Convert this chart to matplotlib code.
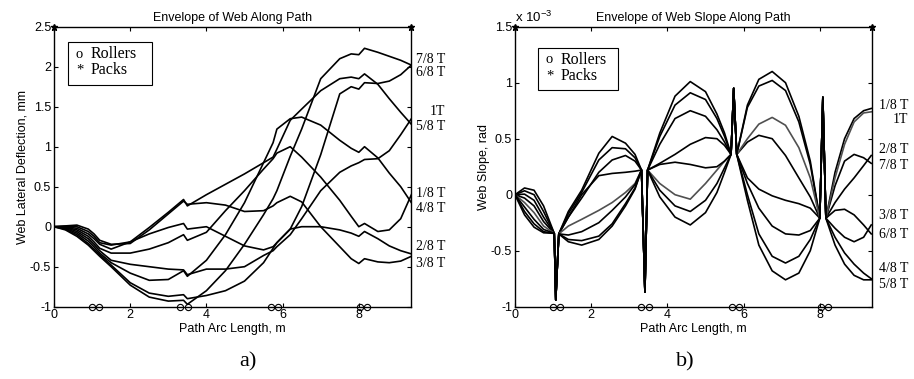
import matplotlib
matplotlib.use("Agg")
import matplotlib.pyplot as plt
from matplotlib.patches import Rectangle

plt.rcParams["font.family"] = ["Liberation Sans", "DejaVu Sans"]
plt.rcParams["mathtext.default"] = "regular"

# ---------------- a) web lateral deflection, mm ----------------
x_defl = [0, 0.3, 0.6, 0.9, 1.05, 1.2, 1.5, 2.0, 2.5, 3.0, 3.4, 3.5, 4.0, 4.5, 5.0,
          5.5, 5.75, 5.85, 6.2, 6.5, 7.0, 7.5, 7.8, 8.0, 8.15, 8.5, 8.8, 9.1, 9.38]
defl_1_8 = [0, -0.005, -0.04, -0.12, -0.19, -0.27, -0.33, -0.33, -0.28, -0.2, -0.1, -0.17, -0.07, 0.2, 0.45,
            0.72, 0.85, 0.92, 1.0, 0.87, 0.62, 0.33, 0.13, 0.0, 0.04, -0.06, -0.04, 0.1, 0.4]
defl_2_8 = [0, 0.0, -0.02, -0.09, -0.15, -0.22, -0.28, -0.19, -0.09, -0.01, 0.04, -0.03, 0.0, -0.12, -0.24,
            -0.29, -0.25, -0.2, -0.03, 0.0, 0.0, -0.04, -0.08, -0.12, -0.06, -0.15, -0.24, -0.3, -0.34]
defl_3_8 = [0, 0.01, 0.02, -0.03, -0.09, -0.17, -0.22, -0.21, -0.04, 0.16, 0.32, 0.28, 0.3, 0.27, 0.19,
            0.2, 0.26, 0.3, 0.38, 0.31, 0.0, -0.25, -0.4, -0.46, -0.4, -0.44, -0.45, -0.43, -0.37]
defl_4_8 = [0, -0.02, -0.08, -0.18, -0.25, -0.33, -0.45, -0.58, -0.67, -0.66, -0.55, -0.62, -0.42, -0.1, 0.3,
            0.8, 1.05, 1.22, 1.35, 1.37, 1.27, 1.08, 0.98, 0.93, 1.0, 0.86, 0.67, 0.5, 0.3]
defl_5_8 = [0, 0.005, 0.0, -0.06, -0.12, -0.2, -0.23, -0.19, -0.01, 0.18, 0.34, 0.26, 0.4, 0.53, 0.66,
            0.8, 0.87, 0.97, 1.33, 1.47, 1.7, 1.85, 1.87, 1.85, 1.91, 1.78, 1.6, 1.43, 1.28]
defl_6_8 = [0, -0.03, -0.1, -0.21, -0.28, -0.35, -0.48, -0.7, -0.83, -0.87, -0.85, -0.9, -0.86, -0.8, -0.68,
            -0.45, -0.27, -0.2, -0.03, 0.25, 0.9, 1.66, 1.75, 1.72, 1.8, 1.79, 1.82, 1.9, 2.02]
defl_7_8 = [0, -0.04, -0.12, -0.23, -0.3, -0.37, -0.5, -0.73, -0.88, -0.93, -0.92, -0.97, -0.8, -0.55, -0.22,
            0.15, 0.35, 0.45, 0.88, 1.22, 1.85, 2.1, 2.16, 2.15, 2.23, 2.18, 2.13, 2.08, 2.02]
defl_1 = [0, -0.01, -0.06, -0.15, -0.22, -0.3, -0.42, -0.47, -0.5, -0.53, -0.54, -0.6, -0.53, -0.53, -0.5,
          -0.36, -0.3, -0.25, -0.1, 0.1, 0.45, 0.68, 0.76, 0.8, 0.84, 0.85, 0.95, 1.15, 1.35]
defl_curves = [defl_1_8, defl_2_8, defl_3_8, defl_4_8, defl_5_8, defl_6_8, defl_7_8, defl_1]
defl_labels = ["7/8 T", "6/8 T", "1T", "5/8 T", "1/8 T", "4/8 T", "2/8 T", "3/8 T"]
defl_label_y = [2.09, 1.93, 1.44, 1.25, 0.42, 0.23, -0.25, -0.46]
defl_yticks = [-1, -0.5, 0, 0.5, 1, 1.5, 2, 2.5]
defl_yticklabels = ["-1", "-0.5", "0", "0.5", "1", "1.5", "2", "2.5"]

# ---------------- b) web slope, x 1e-3 rad ----------------
x_slope = [0, 0.25, 0.5, 0.75, 1.03, 1.07, 1.15, 1.4, 1.75, 2.2, 2.55, 2.9, 3.15, 3.32, 3.41, 3.48,
           3.8, 4.2, 4.6, 5.0, 5.3, 5.5, 5.67, 5.74, 5.82, 6.1, 6.4, 6.75, 7.1, 7.45, 7.75,
           8.0, 8.08, 8.16, 8.4, 8.65, 8.9, 9.15, 9.35]
slope_1_8 = [0, 0.06, 0.04, -0.1, -0.345, -0.94, -0.35, -0.15, 0.04, 0.37, 0.52, 0.46, 0.36, 0.22, -0.87, 0.22,
             0.55, 0.88, 1.01, 0.92, 0.72, 0.55, 0.36, 0.95, 0.36, 0.47, 0.53, 0.5, 0.35, 0.15, -0.02,
             -0.21, 0.87, -0.21, 0.2, 0.5, 0.68, 0.75, 0.77]
slope_7_8 = [0, 0.035, 0.0, -0.15, -0.345, -0.94, -0.35, -0.17, 0.02, 0.31, 0.42, 0.41, 0.33, 0.22, -0.87, 0.22,
             0.52, 0.8, 0.91, 0.85, 0.68, 0.52, 0.36, 0.95, 0.36, 0.8, 1.03, 1.1, 1.0, 0.7, 0.3,
             -0.21, 0.87, -0.21, 0.08, 0.3, 0.36, 0.33, 0.28]
slope_6_8 = [0, 0.005, -0.05, -0.2, -0.345, -0.94, -0.35, -0.2, -0.03, 0.2, 0.31, 0.35, 0.3, 0.22, -0.87, 0.22,
             0.45, 0.68, 0.75, 0.7, 0.58, 0.47, 0.36, 0.95, 0.36, 0.78, 0.97, 1.02, 0.93, 0.65, 0.27,
             -0.21, 0.87, -0.21, -0.14, -0.13, -0.18, -0.27, -0.35]
slope_2_8 = [0, -0.03, -0.1, -0.24, -0.345, -0.94, -0.35, -0.2, 0.0, 0.17, 0.19, 0.2, 0.21, 0.22, -0.87, 0.22,
             0.28, 0.36, 0.45, 0.51, 0.5, 0.44, 0.36, 0.95, 0.36, 0.15, 0.05, -0.01, -0.05, -0.08, -0.12,
             -0.21, 0.87, -0.21, -0.07, 0.05, 0.15, 0.26, 0.35]
slope_1 = [0, -0.07, -0.16, -0.28, -0.345, -0.94, -0.35, -0.28, -0.22, -0.14, -0.07, 0.02, 0.1, 0.22, -0.87, 0.22,
           0.1, 0.0, -0.04, 0.1, 0.22, 0.3, 0.36, 0.95, 0.36, 0.5, 0.63, 0.69, 0.62, 0.42, 0.15,
           -0.21, 0.87, -0.21, 0.15, 0.45, 0.65, 0.73, 0.74]
slope_4_8 = [0, -0.11, -0.22, -0.31, -0.345, -0.94, -0.35, -0.36, -0.33, -0.25, -0.14, -0.02, 0.09, 0.22, -0.87, 0.22,
             0.27, 0.29, 0.27, 0.24, 0.25, 0.3, 0.36, 0.95, 0.36, 0.1, -0.12, -0.28, -0.35, -0.36, -0.32,
             -0.21, 0.87, -0.21, -0.45, -0.62, -0.72, -0.76, -0.76]
slope_3_8 = [0, -0.15, -0.26, -0.33, -0.345, -0.94, -0.35, -0.4, -0.41, -0.37, -0.26, -0.08, 0.06, 0.22, -0.87, 0.22,
             0.04, -0.1, -0.15, -0.05, 0.1, 0.24, 0.36, 0.95, 0.36, 0.0, -0.35, -0.55, -0.61, -0.55, -0.4,
             -0.21, 0.87, -0.21, -0.3, -0.38, -0.42, -0.38, -0.27]
slope_5_8 = [0, -0.18, -0.29, -0.34, -0.345, -0.94, -0.35, -0.42, -0.45, -0.4, -0.28, -0.1, 0.05, 0.22, -0.87, 0.22,
             -0.02, -0.2, -0.27, -0.16, 0.02, 0.2, 0.36, 0.95, 0.36, -0.05, -0.45, -0.68, -0.76, -0.7, -0.5,
             -0.21, 0.87, -0.21, -0.38, -0.52, -0.62, -0.7, -0.75]
slope_curves = [slope_1_8, slope_7_8, slope_6_8, slope_2_8, slope_1, slope_4_8, slope_3_8, slope_5_8]
slope_colors = ["black", "black", "black", "black", "#505050", "black", "black", "black"]
slope_labels = ["1/8 T", "1T", "2/8 T", "7/8 T", "3/8 T", "6/8 T", "4/8 T", "5/8 T"]
slope_label_y = [0.80, 0.67, 0.40, 0.265, -0.19, -0.355, -0.66, -0.80]
slope_yticks = [-1, -0.5, 0, 0.5, 1, 1.5]
slope_yticklabels = ["-1", "-0.5", "0", "0.5", "1", "1.5"]

# rollers and packs along the path
rollers = [1.0, 1.18, 3.32, 3.53, 5.69, 5.88, 8.02, 8.22]
packs = [0, 9.37]
x_max = 9.37
xticks = [0, 2, 4, 6, 8]

W, H = 914, 379
fig = plt.figure(figsize=(W / 100, H / 100), dpi=100)


def fx(px):
    return px / W


def fy(py):
    return 1 - py / H


def setup(ax, ylim, yticks, yticklabels):
    ax.set_xlim(0, x_max)
    ax.set_ylim(*ylim)
    ax.set_xticks(xticks)
    ax.set_yticks(yticks)
    ax.set_yticklabels(yticklabels)
    ax.tick_params(direction="in", length=3, width=0.8, top=True, right=True,
                   labelsize=9, pad=2, colors="black")
    for s in ax.spines.values():
        s.set_linewidth(1.0)
    ax.set_xlabel("Path Arc Length, m", fontsize=9, labelpad=1)
    ax.plot(rollers, [ylim[0]] * len(rollers), "o", mfc="none", mec="black",
            ms=4.5, mew=0.8, clip_on=False, zorder=5)
    ax.plot(packs, [ylim[1]] * len(packs), "*", color="black", ms=5, clip_on=False, zorder=5)


def legend_box(x0, y0, x1, y1):
    fig.add_artist(Rectangle((fx(x0), fy(y1)), fx(x1) - fx(x0), fy(y0) - fy(y1),
                             fill=True, facecolor="white", edgecolor="black", lw=0.8,
                             transform=fig.transFigure, zorder=10))
    ty1 = y0 + (y1 - y0) * 0.28
    ty2 = y0 + (y1 - y0) * 0.66
    for ty, sym, txt in [(ty1, "o", "Rollers"), (ty2, "*", "Packs")]:
        fig.text(fx(x0 + 8), fy(ty), sym, family="Liberation Serif", fontsize=10.5,
                 va="center", zorder=11)
        fig.text(fx(x0 + 23), fy(ty), txt, family="Liberation Serif", fontsize=11.5,
                 va="center", zorder=11)


# panel a)
ax1 = fig.add_axes([fx(54), fy(306.7), 357 / W, 280 / H])
for y in defl_curves:
    ax1.plot(x_defl, y, color="black", lw=1.2)
setup(ax1, (-1, 2.5), defl_yticks, defl_yticklabels)
ax1.set_title("Envelope of Web Along Path", fontsize=9, pad=4)
ax1.set_ylabel("Web Lateral Deflection, mm", fontsize=9, labelpad=1)
for lab, y in zip(defl_labels, defl_label_y):
    ax1.text(x_max + 0.9, y, lab, ha="right", va="center", family="Liberation Serif",
             fontsize=10, clip_on=False)
legend_box(68, 42, 152, 85)
fig.text(fx(248), fy(362), "a)", ha="center", va="center", family="Liberation Serif", fontsize=16)

# panel b)
ax2 = fig.add_axes([fx(515), fy(306.7), 357 / W, 280 / H])
for y, c in zip(slope_curves, slope_colors):
    ax2.plot(x_slope, y, color=c, lw=1.2)
setup(ax2, (-1, 1.5), slope_yticks, slope_yticklabels)
ax2.set_title("Envelope of Web Slope Along Path", fontsize=9, pad=4)
ax2.set_ylabel("Web Slope, rad", fontsize=9, labelpad=1)
for lab, y in zip(slope_labels, slope_label_y):
    ax2.text(x_max + 0.95, y, lab, ha="right", va="center", family="Liberation Serif",
             fontsize=10, clip_on=False)
fig.text(fx(515), fy(17), "x 10$^{-3}$", ha="left", va="center", fontsize=9.5)
legend_box(538, 48, 618, 90)
fig.text(fx(685), fy(362), "b)", ha="center", va="center", family="Liberation Serif", fontsize=16)

fig.savefig("out.png", dpi=100, facecolor="white")
